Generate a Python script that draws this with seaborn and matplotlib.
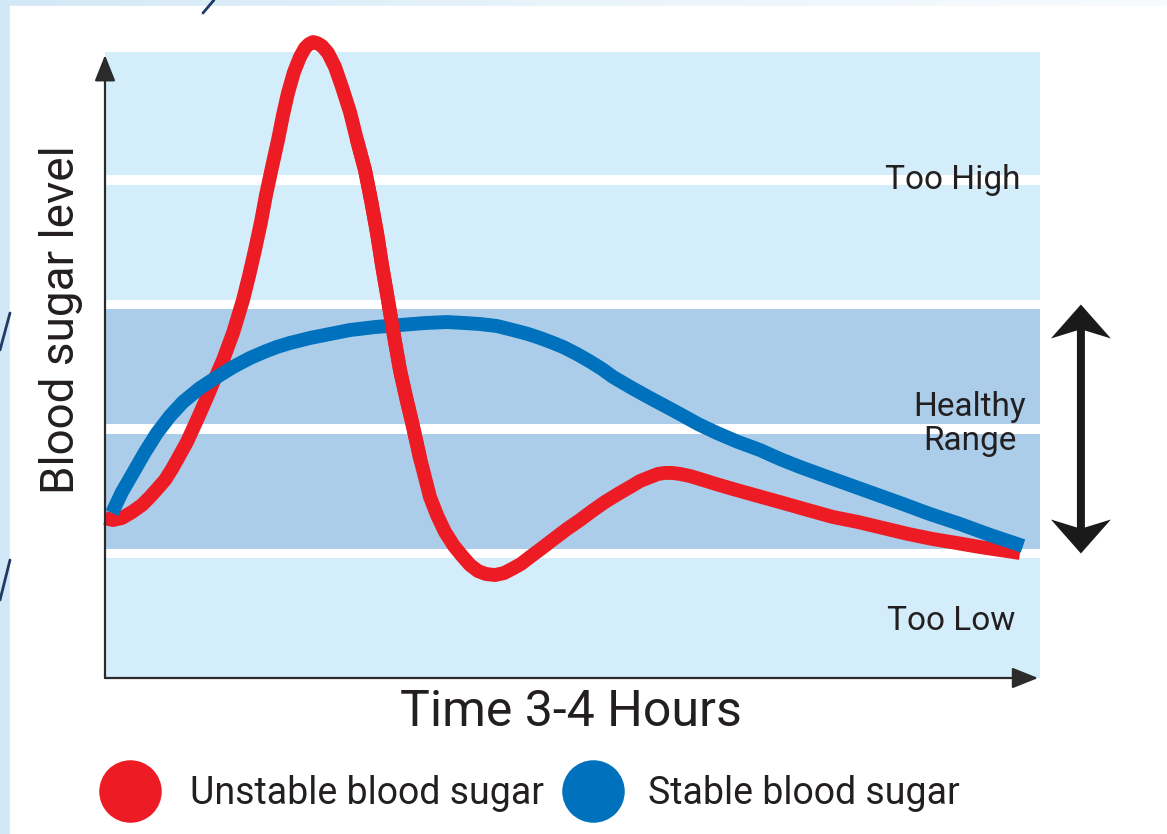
import numpy as np
import pandas as pd
import matplotlib
matplotlib.use("Agg")
import matplotlib.pyplot as plt
from matplotlib.patches import Rectangle, Polygon
from matplotlib.lines import Line2D
import seaborn as sns

# ---- data -------------------------------------------------------------
# time in minutes, blood sugar on a relative scale (healthy range 1..3)
unstable_time = [0.00, 2.05, 4.36, 6.93, 9.50, 11.55, 13.60, 15.40, 17.20, 18.48,
                 21.05, 23.61, 25.67, 27.72, 30.29, 32.86, 35.42, 36.96, 38.50, 40.04,
                 41.33, 42.87, 44.41, 45.69, 46.97, 48.51, 50.05, 51.34, 52.36, 53.39,
                 54.42, 55.70, 57.24, 59.04, 60.83, 62.89, 64.68, 66.74, 68.28, 69.82,
                 71.10, 72.64, 74.18, 75.72, 77.26, 78.80, 80.86, 83.42, 85.22, 87.27,
                 89.58, 91.89, 93.69, 95.74, 97.80, 100.11, 102.42, 104.47, 106.78, 109.09,
                 112.17, 115.51, 118.59, 121.93, 125.01, 128.34, 131.68, 134.76, 137.33,
                 139.89, 141.95, 143.74, 145.54, 147.59, 150.16, 152.73, 156.83, 161.20,
                 167.61, 174.03, 180.45, 186.87, 193.28, 199.70, 206.12, 212.53, 218.69,
                 224.60, 229.73, 234.87]
unstable_level = [1.285, 1.269, 1.285, 1.333, 1.390, 1.454, 1.526, 1.590, 1.679, 1.751,
                  1.896, 2.072, 2.217, 2.369, 2.554, 2.771, 3.036, 3.229, 3.438, 3.663,
                  3.880, 4.104, 4.321, 4.522, 4.699, 4.867, 4.988, 5.060, 5.092, 5.108,
                  5.100, 5.076, 5.020, 4.908, 4.747, 4.546, 4.321, 4.080, 3.839, 3.574,
                  3.317, 3.036, 2.747, 2.474, 2.257, 2.056, 1.767, 1.454, 1.309, 1.173,
                  1.060, 0.972, 0.908, 0.859, 0.835, 0.827, 0.843, 0.876, 0.916, 0.972,
                  1.044, 1.124, 1.197, 1.269, 1.341, 1.414, 1.478, 1.534, 1.582,
                  1.614, 1.639, 1.647, 1.647, 1.639, 1.622, 1.598, 1.558, 1.518,
                  1.462, 1.406, 1.349, 1.293, 1.253, 1.205, 1.157, 1.116, 1.084,
                  1.052, 1.028, 1.004]

stable_time = [1.80, 4.36, 7.19, 10.27, 13.35, 16.68, 20.02, 24.38, 28.75, 32.86,
               37.22, 41.07, 44.15, 47.49, 52.62, 57.75, 62.89, 69.30, 75.72, 82.14,
               87.79, 92.41, 96.26, 100.62, 104.73, 108.58, 111.66, 114.73, 117.56,
               121.15, 124.49, 127.57, 130.40, 135.27, 139.89, 143.74, 147.59, 152.21,
               157.09, 162.48, 168.13, 173.26, 178.40, 184.81, 191.23, 197.65, 204.06,
               211.76, 219.47, 227.17, 235.64]
stable_level = [1.325, 1.494, 1.647, 1.815, 1.968, 2.104, 2.217, 2.329, 2.418, 2.498,
                2.570, 2.622, 2.659, 2.691, 2.731, 2.763, 2.795, 2.819, 2.835, 2.851,
                2.859, 2.851, 2.843, 2.827, 2.795, 2.763, 2.731, 2.695, 2.659,
                2.602, 2.542, 2.482, 2.418, 2.329, 2.249, 2.185, 2.120, 2.040,
                1.968, 1.896, 1.831, 1.759, 1.695, 1.622, 1.550, 1.478, 1.406,
                1.317, 1.237, 1.149, 1.060]

zone_edges = [0.0, 1.0, 2.0, 3.0, 4.0, 5.028]
zone_kind = ["low", "healthy", "healthy", "high", "high"]
healthy_range = (1.0, 3.0)
zone_labels = {"Too High": 4.0, "Healthy\nRange": 2.04, "Too Low": 0.46}

series_names = ["Unstable blood sugar", "Stable blood sugar"]
series_colors = ["#ED1C24", "#0071BC"]

x_label = "Time 3-4 Hours"
y_label = "Blood sugar level"
time_span = (0, 240)

# ---- styling ------------------------------------------------------------
sns.set_theme(style="white")
plt.rcParams["font.family"] = ["Roboto", "DejaVu Sans"]
ink = "#231F20"
light_band = "#D4EDFA"
dark_band = "#ABCDEA"

W, H = 1167, 834
fig = plt.figure(figsize=(W / 100, H / 100), dpi=100)

# slide backdrop: pale blue frame with a white panel
bg = fig.add_axes([0, 0, 1, 1], zorder=-10)
grad = np.linspace(0, 1, 256)[None, :]
bg.imshow(grad, aspect="auto", extent=[0, 1, 0, 1],
          cmap=matplotlib.colors.LinearSegmentedColormap.from_list(
              "frame", ["#D2E8F6", "#EAF4FB", "#F7FBFE"]))
bg.add_patch(Rectangle((10 / W, 0), 1, 1 - 6 / H, color="white", zorder=2))
for (x0, y0), (x1, y1) in [((0, 350), (10, 313)), ((0, 600), (10, 560)), ((203, 13), (214, 0))]:
    bg.add_line(Line2D([x0 / W, x1 / W], [1 - y0 / H, 1 - y1 / H], color="#1F3A66",
                       lw=2, zorder=3))
bg.set_xlim(0, 1)
bg.set_ylim(0, 1)
bg.axis("off")

ax = fig.add_axes([105 / W, 1 - 678 / H, 935 / W, 626 / H])
ax.set_xlim(*time_span)
ax.set_ylim(zone_edges[0], zone_edges[-1])
ax.set_facecolor("none")
for s in ax.spines.values():
    s.set_visible(False)

# zone bands separated by thin white gaps
gap = 0.04
for i, kind in enumerate(zone_kind):
    lo = zone_edges[i] + (gap if i > 0 else 0)
    hi = zone_edges[i + 1] - (gap if i < len(zone_kind) - 1 else 0)
    ax.axhspan(lo, hi, color=dark_band if kind == "healthy" else light_band,
               lw=0, zorder=0)

# zone captions
ax.text(234.9, zone_labels["Too High"], "Too High", ha="right", va="center",
        fontsize=24, color=ink, zorder=1)
ax.text(222.0, zone_labels["Healthy\nRange"], "Healthy\nRange", ha="center", va="center",
        fontsize=24, color=ink, linespacing=1.1, zorder=1)
ax.text(233.6, zone_labels["Too Low"], "Too Low", ha="right", va="center",
        fontsize=24, color=ink, zorder=1)

# curves
df_u = pd.DataFrame({"time": unstable_time, "level": unstable_level})
df_s = pd.DataFrame({"time": stable_time, "level": stable_level})
line_kw = dict(lw=10, sort=False, solid_joinstyle="round", clip_on=False)
sns.lineplot(data=df_u, x="time", y="level", ax=ax, color=series_colors[0],
             solid_capstyle="butt", zorder=3, **line_kw)
sns.lineplot(data=df_s, x="time", y="level", ax=ax, color=series_colors[1],
             solid_capstyle="butt", zorder=4, **line_kw)
# the falling branch of the spike passes over the stable curve
fall = df_u[(df_u.time > 64) & (df_u.time < 82)]
sns.lineplot(data=fall, x="time", y="level", ax=ax, color=series_colors[0],
             solid_capstyle="round", zorder=5, **line_kw)
ax.set_xlabel("")
ax.set_ylabel("")
ax.set_xticks([])
ax.set_yticks([])

# axes with arrow heads
arrow_kw = dict(arrowstyle="-|>,head_length=0.8,head_width=0.32", color="#2B2B2B",
                lw=1.6, mutation_scale=20, shrinkA=0, shrinkB=0)
ax.annotate("", xy=(0, 0.995), xycoords="axes fraction", xytext=(0, 0),
            arrowprops=arrow_kw, annotation_clip=False)
ax.annotate("", xy=(0.998, 0), xycoords="axes fraction", xytext=(0, 0),
            arrowprops=arrow_kw, annotation_clip=False)

# double arrow marking the healthy range
px_x = (time_span[1] - time_span[0]) / 935.0
px_y = (zone_edges[-1] - zone_edges[0]) / 626.0
ax_x = 250.5
lo, hi = healthy_range
hw, hl, bl, sw = 30 * px_x, 34 * px_y, 26 * px_y, 4.0 * px_x
verts = [(ax_x, hi), (ax_x + hw, hi - hl), (ax_x + sw, hi - bl), (ax_x + sw, lo + bl),
         (ax_x + hw, lo + hl), (ax_x, lo), (ax_x - hw, lo + hl), (ax_x - sw, lo + bl),
         (ax_x - sw, hi - bl), (ax_x - hw, hi - hl)]
ax.add_patch(Polygon(verts, closed=True, color="#1A1A1A", lw=0, clip_on=False, zorder=6))

# axis titles
ax.text((571 - 105) / 935, (678 - 712) / 626, x_label, transform=ax.transAxes,
        ha="center", va="center", fontsize=36, color=ink)
ax.text((61 - 105) / 935, (678 - 320) / 626, y_label, transform=ax.transAxes,
        ha="center", va="center", rotation=90, fontsize=33, color=ink)

# legend row
for (cx, tx), name, col in zip([(130, 190), (593, 648)], series_names, series_colors):
    fig.add_artist(Line2D([cx / W], [1 - 791 / H], marker="o", markersize=44,
                          color=col, lw=0, transform=fig.transFigure))
    fig.text(tx / W, 1 - 793 / H, name, ha="left", va="center", fontsize=27, color=ink)

fig.savefig("out.png", dpi=100)
